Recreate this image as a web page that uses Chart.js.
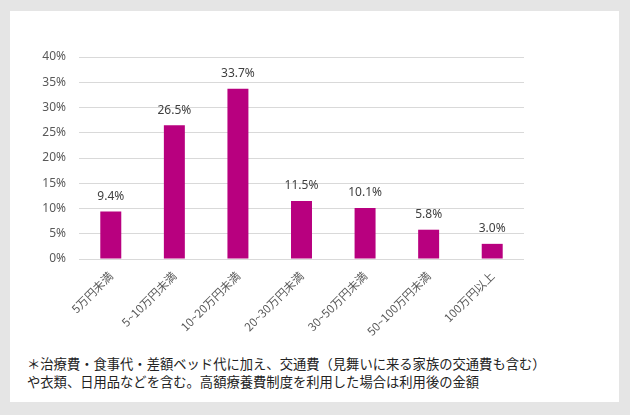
<!DOCTYPE html>
<html lang="ja">
<head>
  <meta charset="UTF-8" />
  <title>入院時の自己負担費用</title>
  <script src="https://cdn.jsdelivr.net/npm/chart.js"></script>
  <style>
    html, body { margin: 0; padding: 0; }
    body { width: 630px; height: 415px; background: #e5e5e5; position: relative; overflow: hidden; }
    #panel { position: absolute; left: 10px; top: 11px; width: 609px; height: 391px; background: #fff; }
    #wrap { position: absolute; left: 0; top: 0; width: 609px; height: 330px; }
    #note { position: absolute; left: 17px; top: 344px; font: 13.3px "Noto Sans CJK JP", sans-serif; color: #222; line-height: 18px; }
  </style>
</head>
<body>
  <div id="panel">
    <div id="wrap"><canvas id="costChart"></canvas></div>
    <div id="note">＊治療費・食事代・差額ベッド代に加え、交通費（見舞いに来る家族の交通費も含む）<br>や衣類、日用品などを含む。高額療養費制度を利用した場合は利用後の金額</div>
  </div>
  <script>
    const categories = ['5万円未満', '5~10万円未満', '10~20万円未満', '20~30万円未満', '30~50万円未満', '50~100万円未満', '100万円以上'];
    const shares = [9.4, 26.5, 33.7, 11.5, 10.1, 5.8, 3.0];
    const yTicks = [0, 5, 10, 15, 20, 25, 30, 35, 40];

    const valueLabels = {
      id: 'valueLabels',
      afterDatasetsDraw(chart) {
        const ctx = chart.ctx;
        const meta = chart.getDatasetMeta(0);
        ctx.save();
        ctx.font = '12px "Noto Sans", sans-serif';
        ctx.fillStyle = '#404040';
        ctx.textAlign = 'center';
        ctx.textBaseline = 'middle';
        meta.data.forEach((bar, i) => {
          ctx.fillText(shares[i].toFixed(1) + '%', bar.x, bar.y - 15);
        });
        ctx.restore();
      }
    };

    new Chart(document.getElementById('costChart'), {
      type: 'bar',
      data: {
        labels: categories,
        datasets: [{
          data: shares,
          backgroundColor: '#b8007f',
          categoryPercentage: 1,
          barPercentage: 0.33
        }]
      },
      options: {
        responsive: true,
        maintainAspectRatio: false,
        animation: false,
        layout: { padding: { left: 0, right: 95, top: 46, bottom: 0 } },
        plugins: { legend: { display: false }, tooltip: { enabled: false } },
        scales: {
          y: {
            min: 0,
            max: 40,
            afterFit(scale) { scale.width = 69; },
            afterBuildTicks(scale) { scale.ticks = yTicks.map(v => ({ value: v })); },
            border: { display: false },
            grid: { color: '#d9d9d9', drawTicks: false },
            ticks: {
              padding: 13,
              color: '#595959',
              font: { family: '"Noto Sans", sans-serif', size: 12 },
              callback: v => v + '%'
            }
          },
          x: {
            afterFit(scale) { scale.height = 82; },
            border: { display: false },
            grid: { display: false },
            ticks: {
              minRotation: 45,
              maxRotation: 45,
              padding: 2,
              color: '#595959',
              font: { family: '"Noto Sans CJK JP", sans-serif', size: 11.5 }
            }
          }
        }
      },
      plugins: [valueLabels]
    });
  </script>
</body>
</html>
